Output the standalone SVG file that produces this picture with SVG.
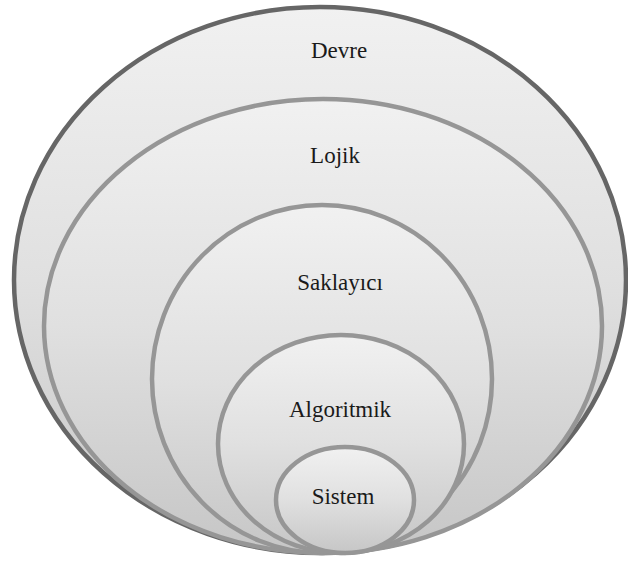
<svg xmlns="http://www.w3.org/2000/svg" width="628" height="568" viewBox="0 0 628 568">
<defs>
<linearGradient id="g" x1="0" y1="0" x2="0" y2="1">
<stop offset="0" stop-color="#f1f1f1"/>
<stop offset="0.5" stop-color="#e0e0e0"/>
<stop offset="1" stop-color="#c6c6c6"/>
</linearGradient>
<style>
.t{font-family:"Liberation Serif","Times New Roman",serif;font-size:23px;fill:#1a1a1a;text-anchor:middle}
.e{fill:url(#g);stroke:#969696;stroke-width:4.5}
</style>
</defs>
<rect width="628" height="568" fill="#ffffff"/>
<g id="devre"><ellipse cx="320" cy="280" rx="306" ry="273" fill="url(#g)" stroke="#666666" stroke-width="4.5"/><text class="t" x="339" y="58">Devre</text></g>
<g id="lojik"><ellipse class="e" cx="323" cy="326" rx="279" ry="227"/><text class="t" x="335" y="163">Lojik</text></g>
<g id="saklayici"><ellipse class="e" cx="322" cy="379" rx="170" ry="174"/><text class="t" x="340" y="290">Saklayıcı</text></g>
<g id="algoritmik"><ellipse class="e" cx="341" cy="444" rx="123" ry="109"/><text class="t" x="340" y="417">Algoritmik</text></g>
<g id="sistem"><ellipse class="e" cx="345" cy="500" rx="69" ry="53" stroke="#acacac" stroke-width="5"/><text class="t" x="343" y="504">Sistem</text></g>
<g id="connectors"/>
</svg>
